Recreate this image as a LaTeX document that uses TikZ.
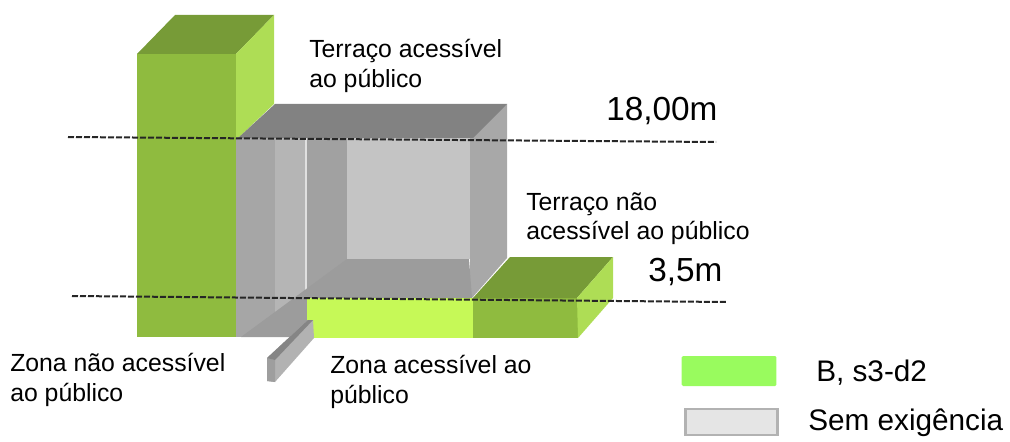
\documentclass[tikz,border=0pt]{standalone}
\usepackage{fontspec}
\setmainfont{Liberation Sans}
\definecolor{towerfront}{HTML}{8FBB3F}
\definecolor{towertop}{HTML}{779B37}
\definecolor{towerside}{HTML}{AEDD55}
\definecolor{limefront}{HTML}{C6F957}
\definecolor{legendgreen}{HTML}{99FB5E}
\tikzset{
  lbl/.style={font=\fontsize{18.6}{22.2}\selectfont, align=left, anchor=north west, inner sep=0pt},
  biglbl/.style={lbl, font=\fontsize{25}{29}\selectfont},
  keylbl/.style={lbl, font=\fontsize{22.3}{26}\selectfont},
  level/.style={draw=black!85, line width=1.5pt, dash pattern=on 4.5pt off 1.5pt},
  legendbox/.style={minimum width=71pt, minimum height=22.5pt, inner sep=0pt}
}
\begin{document}
\begin{tikzpicture}[x=0.75pt, y=-0.75pt]
  \useasboundingbox (0,0) rectangle (1010,442);

  % Tall block
  \fill[towerfront] (137,54) rectangle (236,337);
  \fill[towertop] (137,54) -- (175,15) -- (274,15) -- (236,54) -- cycle;
  \fill[towerside] (236,54) -- (274,15) -- (274,104) -- (236,140) -- cycle;

  % Courtyard walls
  \fill[black!35] (236,137) rectangle (275,337);
  \fill[black!29] (275,137) rectangle (305,337);
  \fill[black!12] (305,137) rectangle (307,298);
  \fill[black!37] (307,137) rectangle (347,298);
  \fill[black!23] (347,137) rectangle (470,259);
  \fill[black!34] (470,137) -- (507,104) -- (507,258) -- (472,298) -- (470,298) -- cycle;
  \fill[black!49] (238,138) -- (275,104) -- (507,104) -- (473,138) -- cycle;
  \fill[black!39] (347,259) -- (469,259) -- (472,298) -- (307,298) -- (307,337) -- (241,337) -- cycle;

  % Low block
  \fill[limefront] (307,298) rectangle (473,338);
  \fill[towerfront] (473,298) rectangle (578,338);
  \fill[towertop] (473,298) -- (510,257) -- (613,257) -- (577,298) -- cycle;
  \fill[towerside] (577,298) -- (613,257) -- (613,298) -- (578,338) -- cycle;

  % Small wall
  \fill[black!30] (267,358) -- (308,320) -- (313,320) -- (314,338) -- (275,382) -- (267,381) -- cycle;
  \fill[black!38] (267,358) -- (275,360) -- (275,382) -- (267,381) -- cycle;
  \fill[black!48] (267,358) -- (308,320) -- (313,320) -- (275,360) -- cycle;

  % Levels
  \coordinate (upperL) at (68,137);
  \coordinate (upperR) at (716,142);
  \coordinate (lowerL) at (72,296);
  \coordinate (lowerR) at (726,302);
  \draw[level] (upperL) -- (upperR);
  \draw[level] (lowerL) -- (lowerR);

  % Labels
  \node[lbl] (terraceA) at (309,39) {Terraço acessível\\ao público};
  \node[lbl] (terraceB) at (526,192) {Terraço não\\acessível ao público};
  \node[lbl] (zoneA) at (10,353) {Zona não acessível\\ao público};
  \node[lbl] (zoneB) at (330,355) {Zona acessível ao\\público};
  \node[biglbl] (high) at (606,97) {18,00m};
  \node[biglbl] (low) at (648,258) {3,5m};

  % Legend
  \node[legendbox, fill=legendgreen, rounded corners=1pt] (swatchA) at (729,371) {};
  \node[legendbox, fill=black!10, draw=black!30, line width=2pt, minimum width=69pt, minimum height=19.5pt] (swatchB) at (731.5,422) {};
  \node[keylbl] (legendA) at (816,360) {B, s3-d2};
  \node[keylbl] (legendB) at (808,409) {Sem exigência};
\end{tikzpicture}
\end{document}
